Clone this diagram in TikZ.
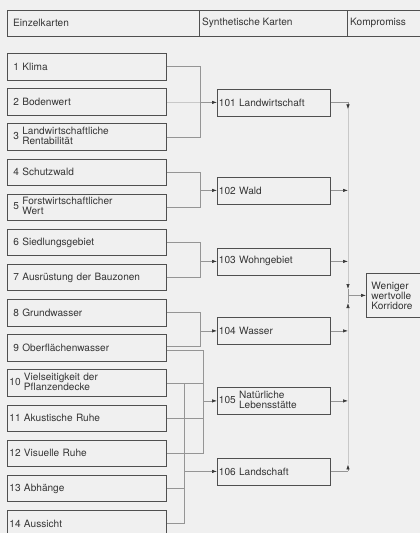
\documentclass[tikz,border=0pt]{standalone}
\usepackage{fontspec}
\setmainfont{TeX Gyre Heros}
\usetikzlibrary{arrows.meta}
\definecolor{ink}{HTML}{353535}
\definecolor{edge}{HTML}{505050}
\definecolor{wirec}{HTML}{959595}
\definecolor{faint}{HTML}{C8C8C8}
\definecolor{paper}{HTML}{F0F0F0}
\begin{document}
\begin{tikzpicture}[x=1pt,y=-1pt,
  txt/.style={text=ink,font=\fontsize{10.1}{9.5}\selectfont},
  lbox/.style={txt,draw=edge,line width=0.8pt,anchor=north west,minimum height=26.5pt,inner ysep=0pt,inner xsep=6pt,text width=147pt,align=left},
  lboxw/.style={lbox,inner xsep=2pt,text width=155pt},
  sbox/.style={txt,draw=edge,line width=0.8pt,anchor=north west,minimum height=27pt,inner ysep=0pt,inner xsep=1.5pt,text width=110pt,align=left},
  wire/.style={draw=wirec,line width=0.6pt},
  fwire/.style={draw=faint,line width=0.6pt},
  feed/.style={wire,-{Latex[length=5pt,width=3.4pt,color=ink]}},
  ffeed/.style={fwire,-{Latex[length=5pt,width=3.4pt,color=ink]}},
  hlabel/.style={txt,anchor=west,inner sep=0pt}]
\fill[paper] (0,0) rectangle (420,533);
\clip (0,0) rectangle (420,533);
% header
\draw[edge,line width=0.8pt] (7,10) rectangle (430,36);
\draw[edge,line width=0.6pt] (199,10) -- (199,36) (347,10) -- (347,36);
\node[hlabel] (h1) at (13,23) {Einzelkarten};
\node[hlabel] (h2) at (202,23) {Synthetische Karten};
\node[hlabel] (h3) at (350,23) {Kompromiss};
% single maps
\node[lbox] (b1) at (7,53) {1 Klima};
\node[lbox] (b2) at (7,88.2) {2 Bodenwert};
\node[lbox] (b3) at (7,123.3) {3 \begin{tabular}[c]{@{}l@{}}Landwirtschaftliche\\Rentabilität\end{tabular}};
\node[lbox] (b4) at (7,158.5) {4 Schutzwald};
\node[lbox] (b5) at (7,193.6) {5 \begin{tabular}[c]{@{}l@{}}Forstwirtschaftlicher\\Wert\end{tabular}};
\node[lbox] (b6) at (7,228.8) {6 Siedlungsgebiet};
\node[lbox] (b7) at (7,263.9) {7 Ausrüstung der Bauzonen};
\node[lbox] (b8) at (7,299.1) {8 Grundwasser};
\node[lbox] (b9) at (7,334.2) {9 Oberflächenwasser};
\node[lboxw] (b10) at (7,369.4) {10 \begin{tabular}[c]{@{}l@{}}Vielseitigkeit der\\Pflanzendecke\end{tabular}};
\node[lboxw] (b11) at (7,404.5) {11 Akustische Ruhe};
\node[lboxw] (b12) at (7,439.7) {12 Visuelle Ruhe};
\node[lboxw] (b13) at (7,474.8) {13 Abhänge};
\node[lboxw] (b14) at (7,510) {14 Aussicht};
% synthetic maps
\node[sbox] (n101) at (217,88.5) {101 Landwirtschaft};
\node[sbox] (n102) at (217,176.5) {102 Wald};
\node[sbox] (n103) at (217,247.5) {103 Wohngebiet};
\node[sbox] (n104) at (217,317) {104 Wasser};
\node[sbox] (n105) at (217,387) {105 \begin{tabular}[c]{@{}l@{}}Natürliche\\Lebensstätte\end{tabular}};
\node[sbox] (n106) at (217,457.5) {106 Landschaft};
% compromise
\node[txt,font=\fontsize{10.1}{10}\selectfont,draw=edge,line width=0.8pt,anchor=north west,minimum width=70pt,minimum height=44pt,inner ysep=0pt,inner xsep=2pt,text width=60pt,align=left] (korr) at (366,273) {Weniger\\wertvolle\\Korridore};
% bus coordinates
\coordinate (xA) at (200,0);
\coordinate (xB) at (203,0);
\coordinate (xC) at (184,0);
\coordinate (xR) at (348,0);
\coordinate (b9u) at ([yshift=2pt]b9.east);
\coordinate (b9d) at ([yshift=-2.5pt]b9.east);
\coordinate (jT) at (348,289);
\coordinate (jB) at (348,303);
% 101
\draw[wire] (b1.east) -- (b1.east -| xA) -- (b3.east -| xA) -- (b3.east);
\draw[fwire] (b2.east) -- (b2.east -| xA);
\draw[feed] (n101.west -| xA) -- (n101.west);
% 102
\draw[wire] (b4.east) -- (b4.east -| xA) -- (b5.east -| xA) -- (b5.east);
\draw[feed] (n102.west -| xA) -- (n102.west);
% 103
\draw[wire] (b6.east) -- (b6.east -| xA) -- (b7.east -| xA) -- (b7.east);
\draw[feed] (n103.west -| xA) -- (n103.west);
% 104
\draw[wire] (b8.east) -- (b8.east -| xA) -- (b9u -| xA) -- (b9u);
\draw[feed] (n104.west -| xA) -- (n104.west);
% 105
\draw[wire] (b9d) -- (b9d -| xB) -- (b12.east -| xB) -- (b12.east);
\draw[wire] (b10.east) -- (b10.east -| xB);
\draw[wire] (b11.east) -- (b11.east -| xB);
\draw[feed] (n105.west -| xB) -- (n105.west);
% 106
\draw[wire] (b10.east -| xC) -- (b14.east -| xC) -- (b14.east);
\draw[wire] (b13.east) -- (b13.east -| xC);
\draw[feed] (n106.west -| xC) -- (n106.west);
% outputs
\draw[wire] (n101.east) -- (n101.east -| xR);
\draw[feed] (n101.east -| xR) -- ([yshift=-7pt]n101.east -| xR);
\draw[ffeed] ([yshift=-7pt]n101.east -| xR) -- (jT);
\draw[feed] (n102.east) -- (n102.east -| xR);
\draw[feed] (n103.east) -- (n103.east -| xR);
\draw[feed] (n104.east) -- (n104.east -| xR);
\draw[feed] (n105.east) -- (n105.east -| xR);
\draw[wire] (n106.east) -- (n106.east -| xR);
\draw[feed] (n106.east -| xR) -- ([yshift=7pt]n106.east -| xR);
\draw[ffeed] ([yshift=7pt]n106.east -| xR) -- (jB);
\draw[wire] (jT) -- (jB);
\draw[feed] (jT |- korr.west) -- (korr.west);
\end{tikzpicture}
\end{document}
